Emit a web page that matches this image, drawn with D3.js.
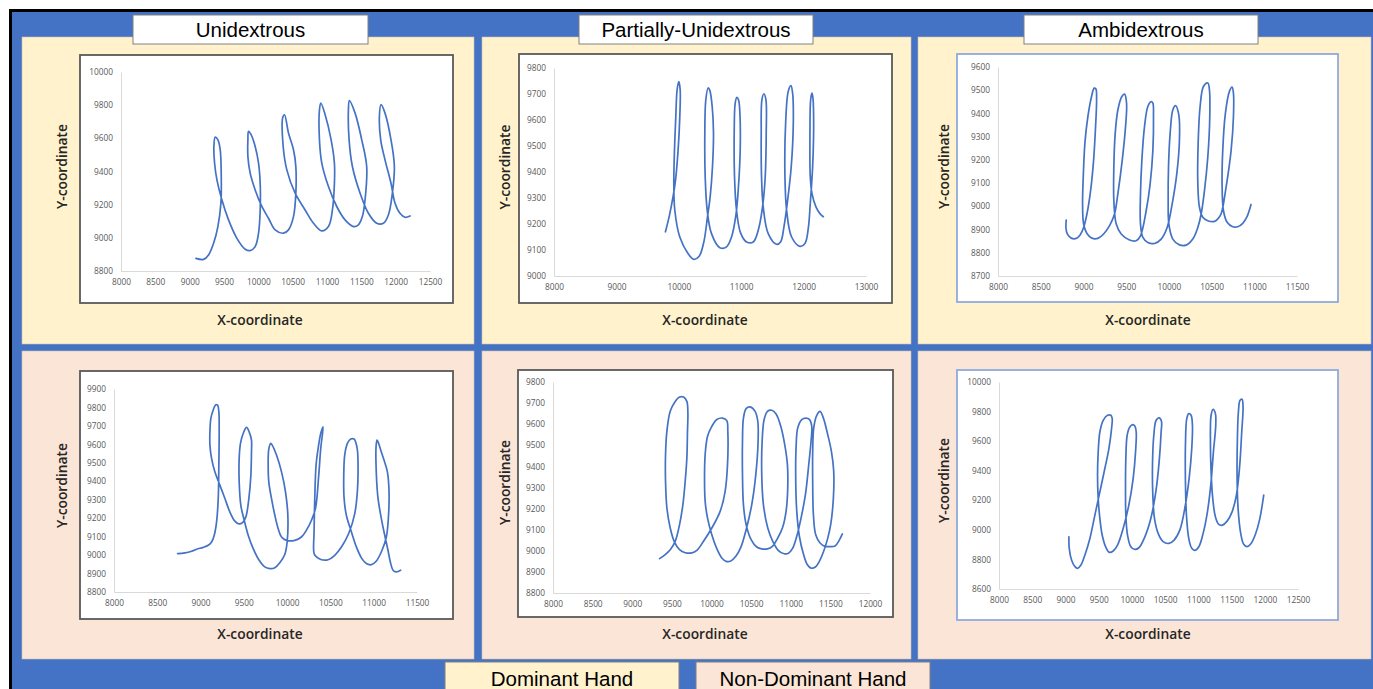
<!DOCTYPE html>
<html>
<head>
<meta charset="utf-8">
<script src="https://cdnjs.cloudflare.com/ajax/libs/d3/7.8.5/d3.min.js"></script>
<style>
  html, body { margin: 0; padding: 0; background: #ffffff; }
  svg { display: block; }
</style>
</head>
<body>
<script>
// ---------------- DATA ----------------
const groups = ["Unidextrous", "Partially-Unidextrous", "Ambidextrous"];
const hands = ["Dominant Hand", "Non-Dominant Hand"];
const xAxisTitle = "X-coordinate";
const yAxisTitle = "Y-coordinate";

// Unidextrous – dominant hand
const uniDomX = [9091,9203,9275,9348,9411,9455,9460,9445,9411,9372,9353,9363,9397,9469,9566,9688,9809,9881,9954,10003,10027,10027,10003,9954,9896,9857,9848,9848,9881,9954,10051,10148,10245,10366,10439,10512,10546,10546,10512,10439,10381,10357,10362,10415,10536,10681,10803,10924,11021,11079,11108,11108,11060,10973,10910,10890,10890,10924,11021,11142,11263,11385,11457,11515,11554,11578,11506,11409,11326,11312,11322,11370,11482,11603,11724,11821,11894,11952,11981,11932,11845,11787,11763,11782,11845,11932,11991,12063,12136,12209];
const uniDomY = [8876,8870,8897,8967,9068,9209,9370,9531,9591,9607,9551,9450,9350,9229,9108,8997,8931,8923,8947,9028,9168,9329,9450,9551,9621,9642,9591,9490,9390,9289,9189,9118,9048,9028,9048,9128,9269,9430,9531,9632,9742,9728,9551,9410,9269,9168,9088,9042,9068,9168,9329,9450,9591,9742,9813,9772,9591,9450,9309,9189,9108,9068,9078,9128,9229,9430,9591,9752,9827,9772,9591,9430,9269,9148,9088,9088,9138,9269,9430,9591,9752,9803,9732,9591,9470,9329,9209,9148,9124,9132];

// Partially-Unidextrous – dominant hand
const partDomX = [9786,9856,9941,9989,10016,10022,10000,9973,9952,9931,9920,9936,10016,10150,10241,10326,10401,10460,10503,10540,10556,10535,10497,10471,10433,10417,10423,10455,10524,10658,10765,10845,10915,10952,10984,10979,10957,10931,10904,10888,10893,10925,10990,11086,11193,11273,11342,11385,11401,11396,11364,11332,11321,11326,11353,11433,11567,11631,11685,11738,11802,11835,11824,11797,11754,11712,11701,11728,11808,11941,12022,12075,12107,12145,12161,12150,12134,12113,12102,12107,12134,12198,12262,12316];
const partDomY = [9170,9240,9356,9485,9613,9716,9748,9716,9613,9485,9356,9253,9150,9086,9064,9076,9131,9228,9305,9421,9549,9652,9714,9724,9678,9549,9382,9253,9163,9109,9112,9150,9234,9330,9485,9626,9678,9687,9665,9549,9382,9253,9166,9131,9131,9176,9266,9382,9549,9678,9701,9678,9549,9382,9266,9163,9122,9131,9189,9279,9421,9588,9703,9732,9710,9588,9382,9253,9150,9114,9125,9183,9279,9421,9588,9684,9703,9678,9549,9382,9318,9266,9240,9228];

// Ambidextrous – dominant hand
const ambiDomX = [8799,8795,8811,8858,8916,8963,9002,9041,9084,9119,9142,9154,9146,9126,9095,9052,9017,8998,8990,9002,9041,9099,9169,9236,9306,9364,9403,9454,9493,9505,9481,9450,9403,9372,9356,9356,9384,9442,9540,9618,9668,9735,9781,9813,9820,9813,9793,9754,9715,9684,9668,9668,9696,9754,9832,9910,9980,10039,10093,10124,10117,10078,10046,10015,9996,9992,10000,10046,10124,10202,10280,10339,10378,10417,10456,10479,10475,10456,10405,10366,10343,10339,10358,10397,10456,10534,10573,10611,10670,10729,10756,10756,10740,10709,10662,10631,10623,10639,10682,10748,10806,10865,10912,10962];
const ambiDomY = [8941,8909,8881,8863,8862,8878,8909,8967,9068,9198,9343,9458,9505,9509,9473,9386,9271,9126,9011,8924,8883,8863,8862,8881,8917,8967,9054,9198,9343,9444,9483,9473,9415,9314,9170,9025,8924,8881,8855,8852,8873,8982,9097,9242,9386,9444,9451,9430,9343,9198,9054,8924,8866,8844,8840,8859,8909,9011,9141,9285,9393,9434,9415,9314,9170,9025,8924,8859,8834,8833,8859,8909,8967,9068,9213,9386,9502,9531,9516,9430,9271,9097,8996,8953,8938,8935,8946,8967,9083,9242,9386,9487,9513,9495,9401,9242,9097,8982,8931,8912,8912,8927,8953,9008];

// Unidextrous – non-dominant hand
const uniNonX = [8735,8819,8896,8954,9031,9088,9127,9158,9185,9204,9211,9215,9211,9196,9173,9146,9119,9108,9108,9127,9165,9223,9281,9338,9396,9442,9485,9523,9558,9581,9588,9588,9561,9531,9492,9461,9446,9446,9465,9504,9550,9608,9673,9742,9800,9858,9915,9973,10000,10008,9981,9935,9877,9827,9811,9788,9781,9788,9819,9858,9896,9935,9992,10088,10165,10223,10281,10327,10365,10388,10415,10388,10358,10334,10319,10311,10311,10338,10396,10473,10550,10627,10711,10781,10811,10819,10808,10773,10735,10696,10665,10654,10658,10684,10742,10800,10858,10915,10973,11031,11096,11146,11169,11177,11158,11119,11081,11050,11038,11027,11031,11050,11088,11127,11165,11192,11223,11261,11311];
const uniNonY = [9008,9012,9021,9032,9042,9053,9071,9108,9180,9307,9487,9668,9777,9813,9813,9786,9741,9668,9596,9524,9451,9379,9307,9234,9184,9169,9176,9207,9307,9433,9560,9623,9668,9692,9659,9605,9524,9397,9270,9189,9108,9035,8975,8936,8927,8932,8959,9003,9071,9216,9343,9451,9542,9596,9605,9574,9487,9397,9307,9216,9144,9098,9080,9080,9098,9135,9189,9252,9433,9578,9695,9659,9578,9487,9307,9126,9008,8990,8975,8975,8999,9044,9117,9225,9343,9487,9581,9629,9629,9605,9542,9433,9307,9216,9126,9044,8985,8954,8948,8968,9026,9098,9198,9343,9451,9515,9569,9614,9623,9587,9433,9307,9198,9108,9026,8963,8918,8909,8918];

// Partially-Unidextrous – non-dominant hand
const partNonX = [9345,9416,9479,9542,9597,9639,9668,9689,9697,9702,9689,9647,9597,9542,9479,9437,9420,9420,9437,9479,9529,9597,9668,9752,9815,9899,10004,10109,10172,10202,10206,10193,10139,10067,10004,9950,9920,9912,9920,9950,10004,10067,10130,10185,10244,10307,10370,10437,10508,10559,10588,10584,10550,10487,10437,10403,10391,10391,10403,10437,10500,10571,10634,10706,10769,10832,10895,10941,10962,10958,10924,10874,10815,10760,10706,10664,10639,10634,10655,10710,10773,10845,10916,10971,11021,11076,11130,11185,11227,11256,11265,11235,11193,11139,11088,11067,11063,11076,11109,11160,11210,11256,11311,11361,11412,11462,11504,11538,11542,11513,11462,11412,11370,11328,11290,11277,11277,11286,11315,11370,11433,11496,11559,11609,11651];
const partNonY = [8963,8982,9005,9045,9124,9219,9329,9440,9566,9653,9708,9729,9729,9708,9661,9566,9456,9329,9203,9108,9045,9005,8991,8990,9002,9045,9108,9187,9282,9408,9566,9617,9629,9622,9590,9543,9456,9345,9234,9155,9076,9010,8966,8950,8952,8974,9016,9100,9219,9361,9519,9614,9661,9682,9674,9629,9519,9361,9219,9124,9053,9018,9009,9009,9021,9058,9108,9187,9298,9408,9503,9590,9648,9666,9661,9622,9519,9361,9219,9108,9045,9001,8986,8988,9010,9069,9155,9266,9408,9519,9590,9623,9629,9622,9582,9487,9329,9187,9069,8985,8934,8918,8923,8950,8994,9053,9124,9250,9377,9471,9558,9629,9661,9642,9582,9471,9313,9171,9076,9037,9021,9020,9023,9048,9080];

// Ambidextrous – non-dominant hand
const ambiNonX = [9052,9057,9092,9143,9183,9233,9293,9368,9443,9518,9593,9654,9694,9704,9684,9634,9568,9518,9493,9483,9493,9518,9553,9604,9659,9719,9784,9869,9954,10019,10055,10065,10044,10014,9969,9929,9909,9904,9909,9934,9984,10044,10105,10195,10285,10360,10410,10440,10445,10410,10365,10330,10310,10315,10340,10395,10470,10556,10636,10721,10796,10861,10901,10911,10891,10856,10826,10806,10806,10821,10856,10901,10946,11007,11072,11137,11187,11227,11262,11257,11222,11192,11182,11192,11217,11257,11307,11362,11433,11508,11573,11623,11653,11673,11658,11628,11603,11588,11583,11598,11638,11683,11733,11788,11858,11924,11984];
const ambiNonY = [8953,8875,8796,8751,8740,8762,8830,8942,9100,9257,9415,9550,9685,9752,9775,9775,9741,9662,9527,9370,9212,9077,8965,8886,8848,8857,8897,9010,9167,9347,9527,9662,9703,9712,9696,9640,9482,9257,9100,8965,8886,8868,8879,8953,9077,9257,9460,9662,9734,9757,9741,9640,9437,9235,9077,8976,8920,8908,8931,8998,9145,9347,9550,9707,9775,9786,9752,9572,9325,9100,8942,8875,8861,8886,8976,9122,9302,9527,9707,9786,9815,9775,9595,9392,9212,9088,9037,9032,9059,9122,9235,9437,9662,9831,9883,9876,9797,9617,9370,9145,8976,8902,8886,8904,8969,9073,9235];

// Tick labels
const xTicksUniDom = [8000,8500,9000,9500,10000,10500,11000,11500,12000,12500];
const yTicksUniDom = [8800,9000,9200,9400,9600,9800,10000];
const xTicksPartDom = [8000,9000,10000,11000,12000,13000];
const yTicksPartDom = [9000,9100,9200,9300,9400,9500,9600,9700,9800];
const xTicksAmbiDom = [8000,8500,9000,9500,10000,10500,11000,11500];
const yTicksAmbiDom = [8700,8800,8900,9000,9100,9200,9300,9400,9500,9600];
const xTicksUniNon = [8000,8500,9000,9500,10000,10500,11000,11500];
const yTicksUniNon = [8800,8900,9000,9100,9200,9300,9400,9500,9600,9700,9800,9900];
const xTicksPartNon = [8000,8500,9000,9500,10000,10500,11000,11500,12000];
const yTicksPartNon = [8800,8900,9000,9100,9200,9300,9400,9500,9600,9700,9800];
const xTicksAmbiNon = [8000,8500,9000,9500,10000,10500,11000,11500,12000,12500];
const yTicksAmbiNon = [8600,8800,9000,9200,9400,9600,9800,10000];

// ---------------- LAYOUT ----------------
const W = 1373, H = 689;
const BLUE = "#4472C4", CREAM = "#FFF2CC", PINK = "#FBE5D6", LINE = "#4472C4";

const svg = d3.select("body").append("svg").attr("width", W).attr("height", H);

svg.append("rect").attr("x", 0).attr("y", 0).attr("width", W).attr("height", H).attr("fill", "#fff");
svg.append("rect").attr("x", 12).attr("y", 12).attr("width", W - 12).attr("height", H - 12).attr("fill", BLUE);
svg.append("line").attr("x1", 9).attr("x2", W).attr("y1", 10.5).attr("y2", 10.5).attr("stroke", "#000").attr("stroke-width", 3);
svg.append("line").attr("x1", 10.5).attr("x2", 10.5).attr("y1", 9).attr("y2", H).attr("stroke", "#000").attr("stroke-width", 3);

const cols = [{x: 22, w: 452}, {x: 482, w: 429}, {x: 918, w: 453}];
const rows = [{y: 37, h: 307, fill: CREAM}, {y: 351, h: 308, fill: PINK}];

rows.forEach(r => cols.forEach(c => {
  svg.append("rect").attr("x", c.x).attr("y", r.y).attr("width", c.w).attr("height", r.h)
    .attr("fill", r.fill).attr("stroke", "#c8c0b0").attr("stroke-width", 0.6);
}));

const headFont = "'Liberation Sans', Arial, sans-serif";

// Header boxes
const headerBoxes = [{x: 133, w: 235}, {x: 579, w: 234}, {x: 1024, w: 234}];
groups.forEach((g, i) => {
  const b = headerBoxes[i];
  svg.append("rect").attr("x", b.x).attr("y", 15).attr("width", b.w).attr("height", 29)
    .attr("fill", "#fff").attr("stroke", "#808080").attr("stroke-width", 1);
  svg.append("text").attr("x", b.x + b.w / 2).attr("y", 37.3).attr("text-anchor", "middle")
    .attr("font-family", headFont).attr("font-size", 20.5).attr("fill", "#000")
    .text(g);
});

// Footer boxes
const footerBoxes = [{x: 445, w: 234, fill: CREAM}, {x: 696, w: 234, fill: PINK}];
hands.forEach((h, i) => {
  const b = footerBoxes[i];
  svg.append("rect").attr("x", b.x).attr("y", 662).attr("width", b.w).attr("height", 40)
    .attr("fill", b.fill).attr("stroke", "#808080").attr("stroke-width", 1);
  svg.append("text").attr("x", b.x + b.w / 2).attr("y", 686).attr("text-anchor", "middle")
    .attr("font-family", headFont).attr("font-size", 20.5).attr("fill", "#000")
    .text(h);
});

// Chart definitions (layout only; values come from the arrays above)
const charts = [
  {xs: uniDomX, ys: uniDomY, xt: xTicksUniDom, yt: yTicksUniDom, box: [80, 55, 453, 303], border: "#595959",
   plot: [121, 430, 271, 72], ylabX: 62, xlabX: 260, xlabY: 320},
  {xs: partDomX, ys: partDomY, xt: xTicksPartDom, yt: yTicksPartDom, box: [519, 54, 892, 303], border: "#595959",
   plot: [554, 866, 276, 68], ylabX: 505, xlabX: 705, xlabY: 320},
  {xs: ambiDomX, ys: ambiDomY, xt: xTicksAmbiDom, yt: yTicksAmbiDom, box: [957, 54, 1338, 302], border: "#8FAADC",
   plot: [998, 1297, 276, 67], ylabX: 944, xlabX: 1148, xlabY: 320},
  {xs: uniNonX, ys: uniNonY, xt: xTicksUniNon, yt: yTicksUniNon, box: [80, 371, 453, 619], border: "#595959",
   plot: [114, 417, 592, 389], ylabX: 62, xlabX: 260, xlabY: 634},
  {xs: partNonX, ys: partNonY, xt: xTicksPartNon, yt: yTicksPartNon, box: [518, 370, 893, 617], border: "#595959",
   plot: [553, 870, 593, 382], ylabX: 505, xlabX: 705, xlabY: 634},
  {xs: ambiNonX, ys: ambiNonY, xt: xTicksAmbiNon, yt: yTicksAmbiNon, box: [957, 370, 1338, 620], border: "#8FAADC",
   plot: [999, 1298, 589, 382], ylabX: 944, xlabX: 1148, xlabY: 634}
];

const titleFont = "'Open Sans', sans-serif";

charts.forEach(c => {
  const [bx0, by0, bx1, by1] = c.box;
  svg.append("rect").attr("x", bx0).attr("y", by0).attr("width", bx1 - bx0).attr("height", by1 - by0)
    .attr("fill", "#fff").attr("stroke", c.border).attr("stroke-width", 1.8);

  const x = d3.scaleLinear().domain([c.xt[0], c.xt[c.xt.length - 1]]).range([c.plot[0], c.plot[1]]);
  const y = d3.scaleLinear().domain([c.yt[0], c.yt[c.yt.length - 1]]).range([c.plot[2], c.plot[3]]);

  const gx = svg.append("g").attr("transform", `translate(0,${c.plot[2]})`)
    .call(d3.axisBottom(x).tickValues(c.xt).tickSize(0).tickSizeOuter(0).tickPadding(8).tickFormat(d3.format("d")));
  const gy = svg.append("g").attr("transform", `translate(${c.plot[0]},0)`)
    .call(d3.axisLeft(y).tickValues(c.yt).tickSize(0).tickSizeOuter(0).tickPadding(8).tickFormat(d3.format("d")));
  [gx, gy].forEach(g => {
    g.select(".domain").attr("stroke", "#d9d9d9").attr("stroke-width", 1);
    g.selectAll("text").attr("fill", "#595959").attr("font-size", 8.3).attr("font-family", "'Open Sans', 'DejaVu Sans', sans-serif");
  });

  const pts = c.xs.map((v, i) => [v, c.ys[i]]);
  const line = d3.line().x(d => x(d[0])).y(d => y(d[1])).curve(d3.curveCatmullRom.alpha(0.5));
  svg.append("path").datum(pts).attr("d", line).attr("fill", "none")
    .attr("stroke", LINE).attr("stroke-width", 1.7).attr("stroke-linejoin", "round").attr("stroke-linecap", "round");

  svg.append("text").attr("transform", `translate(${c.ylabX},${(c.plot[2] + c.plot[3]) / 2 - 5}) rotate(-90)`)
    .attr("text-anchor", "middle").attr("dy", "0.35em")
    .attr("font-family", titleFont).attr("font-size", 13.8).attr("font-weight", 600).attr("fill", "#262626")
    .text(yAxisTitle);
  svg.append("text").attr("x", c.xlabX).attr("y", c.xlabY).attr("dy", "0.35em").attr("text-anchor", "middle")
    .attr("font-family", titleFont).attr("font-size", 13.8).attr("font-weight", 600).attr("fill", "#262626")
    .text(xAxisTitle);
});
</script>
</body>
</html>
